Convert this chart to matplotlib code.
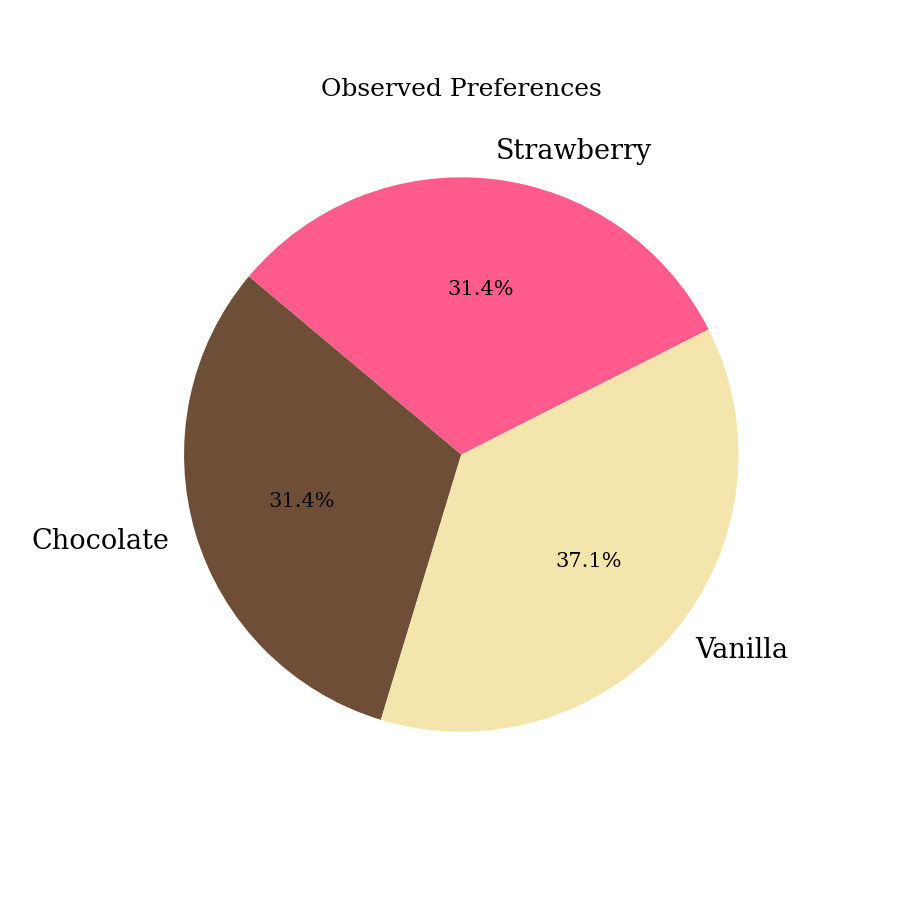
import matplotlib.pyplot as plt

flavors = ['Chocolate', 'Vanilla', 'Strawberry']
counts = [11, 13, 11]
colors = ['#6F4E37', '#F3E5AB', '#FF5B8D']

plt.rcParams['font.family'] = 'DejaVu Serif'

fig, ax = plt.subplots(figsize=(9, 9), dpi=100)
wedges, texts, autotexts = ax.pie(counts, labels=flavors, colors=colors,
                                  autopct='%1.1f%%', startangle=140,
                                  textprops={'fontsize': 15})
for t in texts:
    t.set_fontsize(19.5)
ax.set_title('Observed Preferences', fontsize=18, pad=9)

fig.savefig('out.png', dpi=100)
